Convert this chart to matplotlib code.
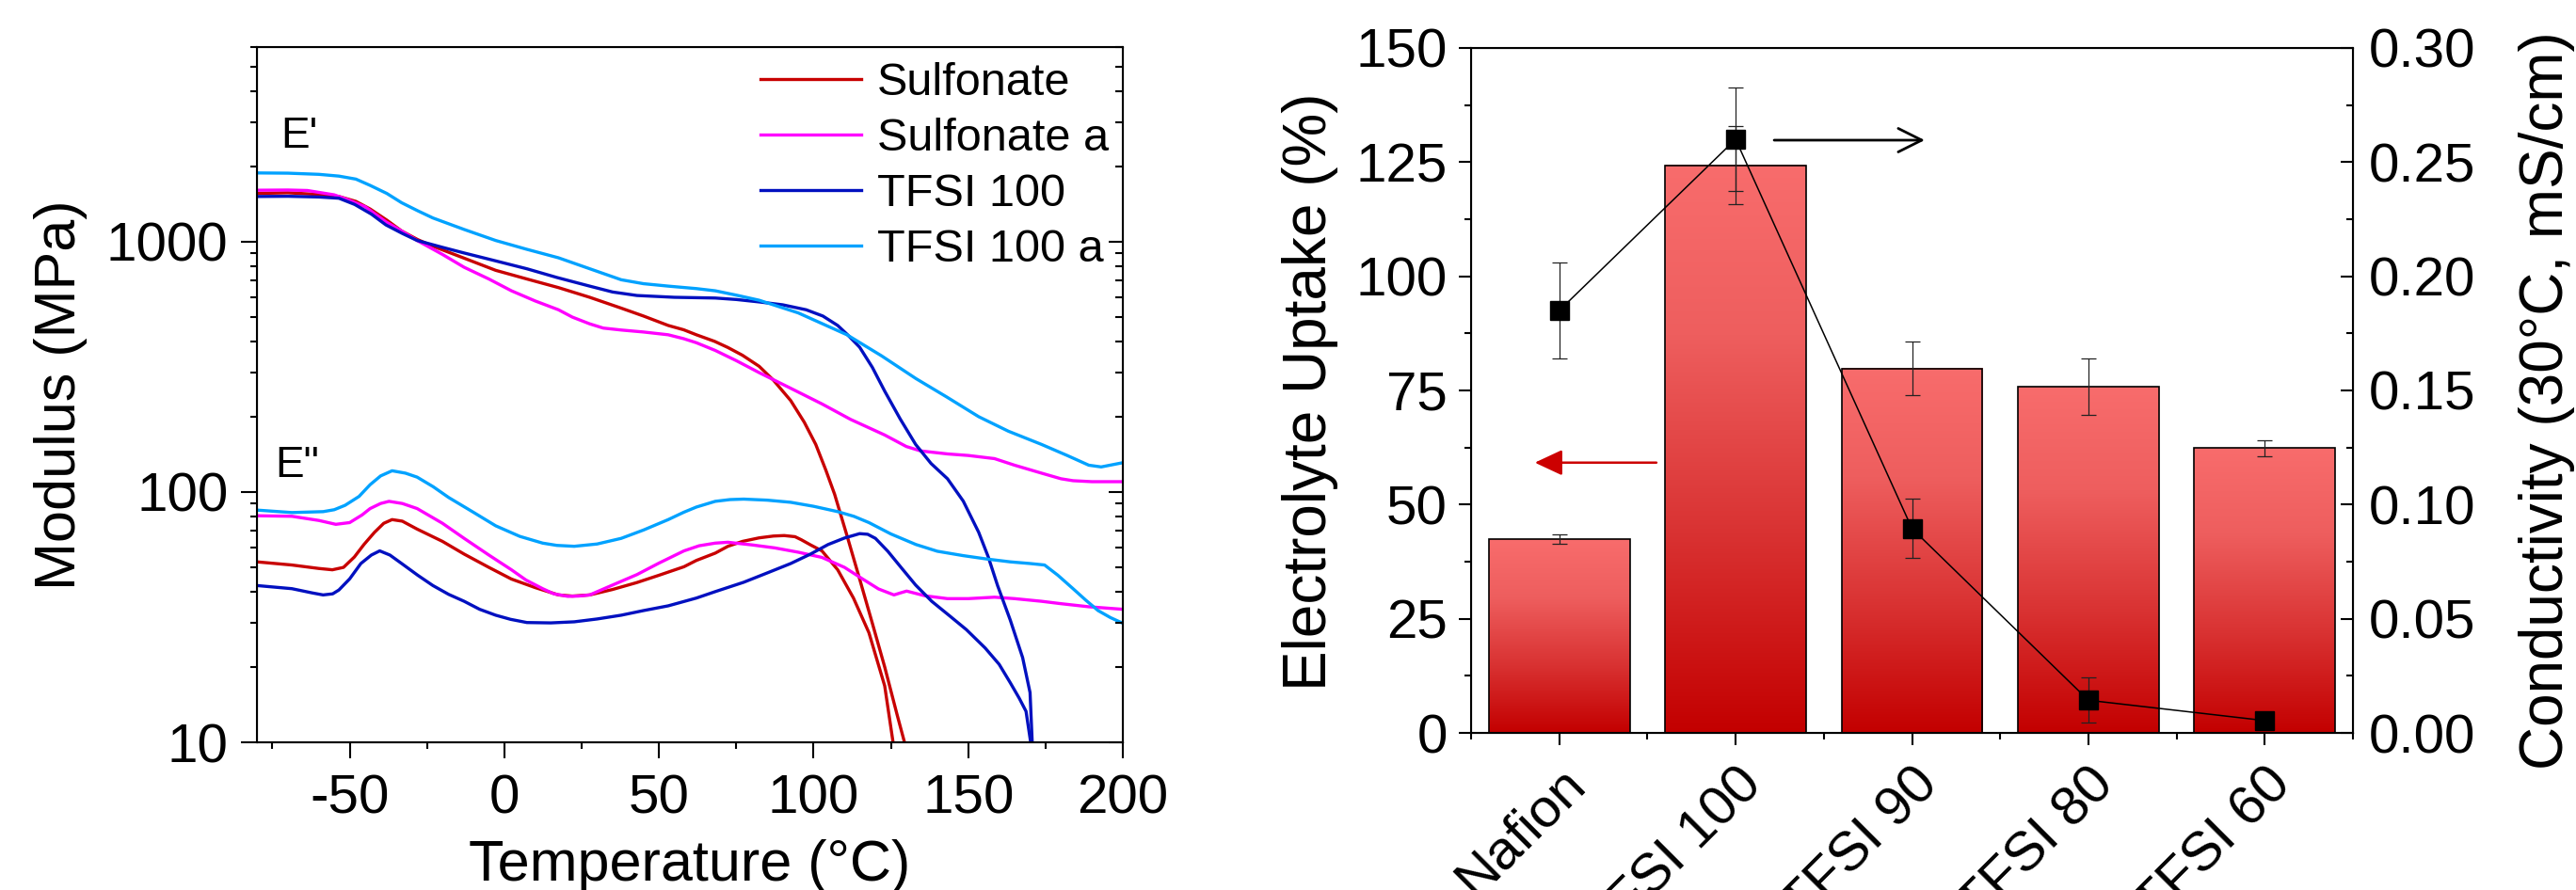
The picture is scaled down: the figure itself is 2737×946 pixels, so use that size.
import matplotlib
matplotlib.use("Agg")
import matplotlib.pyplot as plt
import numpy as np
from matplotlib.colors import LinearSegmentedColormap
from matplotlib.ticker import MultipleLocator, LogLocator, NullFormatter, FixedLocator

plt.rcParams["font.family"] = ["Liberation Sans", "DejaVu Sans"]
plt.rcParams["axes.unicode_minus"] = False

# ---- DMA data ----
# storage modulus E'
sulf_ep_t = [-80, -70, -60, -53.5, -48, -43.4, -38, -33.2, -28, -23.1, -13, -2.8, 7.3, 17.5, 27.6,
             37.8, 45, 53, 58, 62.1, 68, 72.3, 77, 82.4, 87, 92.6, 97, 100.7, 104, 106.8, 110.8,
             114.9, 119, 123, 127, 129.4, 130.5]
sulf_ep = [1560, 1570, 1545, 1517, 1450, 1352, 1220, 1104, 1020, 960, 860, 769, 710, 656, 600,
           543, 505, 463, 445, 425, 400, 378, 352, 318, 280, 232, 190, 155, 122, 98, 67,
           44.9, 29.9, 20, 12.9, 10, 8]

sulfa_ep_t = [-80, -70, -63.7, -55, -50.5, -45, -38.3, -33, -28.2, -20, -13, -5, 2.3, 10, 17.5, 22,
              27.6, 32, 37.8, 45, 53, 58, 62.1, 68.2, 75, 82.4, 92, 102.7, 112, 123, 130, 134.6,
              143.3, 150, 158.5, 165, 173.7, 180, 183.9, 190, 200]
sulfa_ep = [1607, 1610, 1603, 1540, 1472, 1380, 1202, 1100, 1012, 890, 791, 710, 637, 580, 535, 500,
            470, 452, 444, 436, 425, 410, 395, 368, 335, 300, 262, 225, 195, 169, 152, 146,
            142, 140, 136, 128, 119, 113, 111, 110, 110]

tfsi_ep_t = [-80, -70, -60, -53.5, -48.4, -43, -38.3, -33, -28.2, -20, -13, -3, 7.3, 17, 27.6, 35,
             42.9, 55, 68.2, 75, 82.4, 90, 97.6, 103, 107.8, 111, 114.9, 119, 123, 128, 133, 138,
             143.3, 148.4, 153.4, 156.5, 159.5, 163.6, 167.6, 170, 170.7, 171]
tfsi_ep = [1517, 1520, 1510, 1493, 1410, 1290, 1168, 1080, 1012, 950, 902, 840, 780, 720, 665, 630,
           610, 600, 596, 588, 575, 560, 535, 505, 463, 425, 379, 315, 253, 196, 155, 130,
           113, 92, 69, 55, 42.3, 30.8, 21.8, 15.8, 10, 6]

tfsia_ep_t = [-80, -70, -60, -53.5, -48, -43.4, -38, -33.2, -28, -23.1, -13, -2.8, 7, 17.5, 27, 37.8,
              45, 53, 62.1, 68.2, 75, 82.4, 95, 110.8, 122, 133.1, 143, 153.4, 163, 173.7, 182,
              189, 193, 200]
tfsia_ep = [1884, 1880, 1860, 1830, 1780, 1680, 1560, 1432, 1330, 1245, 1120, 1012, 935, 863, 785, 705,
            680, 665, 650, 637, 612, 584, 520, 425, 350, 284, 240, 200, 175, 155, 140,
            128, 126, 131]

# loss modulus E"
sulf_epp_t = [-80, -68.7, -60, -55.6, -52, -48.5, -45.4, -42, -39, -36.3, -33, -28.2, -20, -13, -5,
              2.3, 10, 17.5, 22, 27.6, 35, 42.9, 50, 58.1, 62.1, 68.2, 72.3, 77, 82.4, 87, 90.5,
              94, 96, 99, 102.7, 107.8, 112.9, 117.9, 123, 125.7, 126.5]
sulf_epp = [52.6, 51.1, 49.5, 48.9, 50, 55, 61.7, 69, 75, 77.6, 76.5, 71.1, 63.5, 56.5, 50,
            44.9, 41.5, 38.8, 38.4, 38.8, 40.8, 43.5, 46.5, 50.3, 53.3, 57, 60.7, 63.5, 65.6, 66.7, 67,
            66.3, 64.5, 61.5, 58.2, 48.9, 37.7, 27.4, 16.8, 10, 8]

sulfa_epp_t = [-80, -68.7, -60, -54.5, -50, -46, -43.4, -40, -37.3, -33, -28.2, -20, -13, -5, 2.3, 7,
               12.4, 16, 20.5, 24, 27.6, 35, 42.9, 50, 58.1, 63, 68.2, 72.3, 80, 87.5, 95, 102.7,
               110, 115.9, 121, 126, 128, 130.1, 136, 143.3, 150, 158.5, 165, 173.7, 180, 189, 200]
sulfa_epp = [80.4, 80, 77, 74.3, 75.5, 81, 85.9, 90, 91.8, 90, 85.9, 75, 65.3, 56, 48.9, 44.5,
             41.1, 39.2, 38.3, 38.4, 38.8, 42.5, 46.8, 52, 58.2, 61, 62.5, 63, 61.5, 59.8, 57.5, 54.8,
             50, 44.9, 41, 38.8, 39.5, 40.2, 38.5, 37.5, 37.5, 38, 37.5, 36.6, 35.8, 34.8, 34]

tfsi_epp_t = [-80, -68.7, -62, -58.6, -55.5, -53.5, -50, -46.4, -43, -40.3, -37, -33.2, -28, -23.1,
              -18, -13, -8, -2.8, 2, 7.3, 15, 22.6, 30, 37.8, 45, 53, 62.1, 68.2, 77.4, 85, 92.6,
              99, 104.7, 110, 114.9, 117.5, 120, 124, 128.1, 133, 138.2, 144, 149.4, 155.5, 160,
              163.6, 166.5, 168.7, 170.2, 170.5]
tfsi_epp = [42.3, 41.1, 39.5, 38.8, 39.2, 40.6, 45, 51.8, 56, 58.2, 56, 51.8, 46.5, 42.3,
            39, 36.6, 34, 32.2, 31, 30.1, 30, 30.3, 31.1, 32.2, 33.6, 35.1, 37.7, 40, 43.6, 47.5, 51.8,
            56.5, 61.7, 65.5, 68.2, 67.8, 65.3, 58, 50.3, 42.5, 36.6, 32, 28.2, 23.8, 20.5,
            17.3, 15, 13.3, 10, 7]

tfsia_epp_t = [-80, -68.7, -58.6, -55, -51.5, -47, -43.4, -40, -36.3, -32, -28.2, -23, -18, -10, -2.8,
               5, 12.4, 17, 22.6, 30, 37.8, 45, 53, 58, 62.1, 68.2, 73, 77.4, 85, 92.6, 100, 107.8,
               113, 117.9, 125, 133.1, 140, 148.4, 156, 163.6, 170, 174.7, 179, 183.9, 188, 192,
               196, 200]
tfsia_epp = [84.7, 82.8, 83.5, 85, 88.5, 96, 107, 116, 121.6, 119, 114.7, 105, 95.1, 83, 73.3,
             66.5, 62.5, 61.2, 60.7, 62, 65.3, 70.5, 77.6, 83, 87.1, 91.8, 93.3, 93.7, 92.8, 91, 87.7, 83.5,
             80, 75.5, 68, 61.7, 58, 55.7, 54, 52.6, 51.8, 51.1, 46.5, 41.1, 37, 33.6,
             31.5, 29.9]

series_names = ["Sulfonate", "Sulfonate a", "TFSI 100", "TFSI 100 a"]
series_colors = ["#C80000", "#FF00FF", "#0010C0", "#00A2FF"]

# ---- uptake / conductivity data ----
membranes = ["Nafion", "TFSI 100", "TFSI 90", "TFSI 80", "TFSI 60"]
uptake = [42.4, 124.3, 79.8, 75.8, 62.4]
uptake_err = [1.0, 8.6, 5.9, 6.2, 1.75]
conductivity = [0.185, 0.260, 0.0895, 0.0143, 0.0054]
conductivity_err = [0.021, 0.0227, 0.013, 0.0099, 0.0]

W, H = 2737, 946
fig = plt.figure(figsize=(W / 100, H / 100), dpi=100)

# ================= left panel: DMA =================
ax = fig.add_axes([273 / W, 1 - 789 / H, 920 / W, 739 / H])
curves = [
    (sulf_ep_t, sulf_ep, sulf_epp_t, sulf_epp),
    (sulfa_ep_t, sulfa_ep, sulfa_epp_t, sulfa_epp),
    (tfsi_ep_t, tfsi_ep, tfsi_epp_t, tfsi_epp),
    (tfsia_ep_t, tfsia_ep, tfsia_epp_t, tfsia_epp),
]
for (t1, e1, t2, e2), name, col in zip(curves, series_names, series_colors):
    ax.plot(t1, e1, color=col, lw=2.4, label=name, solid_joinstyle="round")
    ax.plot(t2, e2, color=col, lw=2.4, solid_joinstyle="round")

ax.set_yscale("log")
ax.set_xlim(-80, 200)
ax.set_ylim(10, 6000)
ax.set_xticks([-50, 0, 50, 100, 150, 200])
ax.xaxis.set_minor_locator(MultipleLocator(25))
ax.yaxis.set_major_locator(FixedLocator([10, 100, 1000]))
ax.set_yticklabels(["10", "100", "1000"])
ax.yaxis.set_minor_locator(LogLocator(base=10, subs=range(2, 10)))
ax.yaxis.set_minor_formatter(NullFormatter())
ax.tick_params(which="major", direction="out", length=12, width=1.5, labelsize=42)
ax.tick_params(axis="y", which="major", pad=10)
ax.tick_params(axis="x", which="major", pad=12)
ax.tick_params(which="minor", direction="out", length=5, width=1.5)
for s in ax.spines.values():
    s.set_linewidth(1.5)

axr = ax.twinx()
axr.set_yscale("log")
axr.set_ylim(10, 6000)
axr.yaxis.set_major_locator(FixedLocator([10, 100, 1000]))
axr.yaxis.set_minor_locator(LogLocator(base=10, subs=range(2, 10)))
axr.tick_params(which="both", direction="in", labelright=False, width=1.5)
axr.tick_params(which="major", length=11)
axr.tick_params(which="minor", length=5.5)
axr.yaxis.set_minor_formatter(NullFormatter())

ax.set_xlabel("Temperature (\u00b0C)", fontsize=44)
ax.xaxis.set_label_coords(0.5, -0.140)
ax.set_ylabel("Modulus (MPa)", fontsize=44)
ax.yaxis.set_label_coords(-0.1957, 0.5)

ax.text(0.0272, 0.855, "E'", transform=ax.transAxes, fontsize=33, ha="left", va="baseline")
ax.text(0.0214, 0.381, 'E"', transform=ax.transAxes, fontsize=33, ha="left", va="baseline")

ax.legend(loc="upper left", bbox_to_anchor=(0.5815, 0.979), frameon=False, fontsize=35,
          handlelength=2.2, handletextpad=0.35, labelspacing=0.29, borderpad=0, borderaxespad=0)

# ================= right panel: uptake + conductivity =================
bx = fig.add_axes([1563 / W, 1 - 779 / H, 937 / W, 728 / H])
xpos = np.arange(len(membranes))
bars = bx.bar(xpos, uptake, width=0.8, facecolor="none", edgecolor="black", linewidth=1.2, zorder=3)
grad_cmap = LinearSegmentedColormap.from_list(
    "redgrad", [(0.0, "#C30000"), (0.35, "#D93232"), (0.7, "#EE5E5E"), (1.0, "#F86C6C")])
grad = np.linspace(0, 1, 256).reshape(-1, 1)
for b in bars:
    x0, w, h = b.get_x(), b.get_width(), b.get_height()
    bx.imshow(grad, extent=[x0, x0 + w, 0, h], origin="lower", aspect="auto",
              cmap=grad_cmap, zorder=2, interpolation="bilinear")
bx.errorbar(xpos, uptake, yerr=uptake_err, fmt="none", ecolor="#222222", elinewidth=0.9,
            capsize=6, capthick=0.9, zorder=4)
bx.set_xlim(-0.5, 4.5)
bx.set_ylim(0, 150)
bx.set_yticks(np.arange(0, 151, 25))
bx.yaxis.set_minor_locator(MultipleLocator(12.5))
bx.set_xticks(xpos)
bx.set_xticklabels(membranes, rotation=45, ha="right", va="top", rotation_mode="anchor")
bx.xaxis.set_minor_locator(MultipleLocator(0.5))
bx.tick_params(which="major", direction="out", length=9.5, width=1.5, labelsize=42)
bx.tick_params(which="minor", direction="out", length=4.8, width=1.5)
bx.tick_params(axis="y", which="major", pad=8.5)
bx.tick_params(axis="x", which="major", pad=10)
for s in bx.spines.values():
    s.set_linewidth(1.5)
bx.set_ylabel("Electrolyte Uptake (%)", fontsize=46)
bx.yaxis.set_label_coords(-0.151, 0.4986)

cx = bx.twinx()
cx.errorbar(xpos, conductivity, yerr=conductivity_err, fmt="none", ecolor="#222222",
            elinewidth=0.9, capsize=6, capthick=0.9, zorder=4)
cx.plot(xpos, conductivity, color="black", lw=1.1, marker="s", ms=15, zorder=5)
cx.set_ylim(0, 0.30)
cx.set_yticks(np.arange(0, 0.301, 0.05))
cx.set_yticklabels([f"{v:.2f}" for v in np.arange(0, 0.301, 0.05)])
cx.yaxis.set_minor_locator(MultipleLocator(0.025))
cx.tick_params(which="major", direction="in", length=9.5, width=1.5, labelsize=42, pad=12)
cx.tick_params(which="minor", direction="in", length=4.8, width=1.5)
cx.set_ylabel("Conductivity (30\u00b0C, mS/cm)", fontsize=46)
cx.yaxis.set_label_coords(1.1875, 0.4856)

# direction arrows
cx.annotate("", xy=(0.5144, 0.8654), xytext=(0.3437, 0.8654), xycoords="axes fraction",
            arrowprops=dict(arrowstyle="->,head_length=0.6,head_width=0.3", color="black",
                            lw=2.0, mutation_scale=30, shrinkA=0, shrinkB=0))
cx.annotate("", xy=(0.0723, 0.3946), xytext=(0.2102, 0.3946), xycoords="axes fraction",
            arrowprops=dict(arrowstyle="-|>,head_length=0.6,head_width=0.28", color="#CC0000",
                            lw=1.8, mutation_scale=30, shrinkA=0, shrinkB=0))

fig.savefig("out.png", dpi=100)
